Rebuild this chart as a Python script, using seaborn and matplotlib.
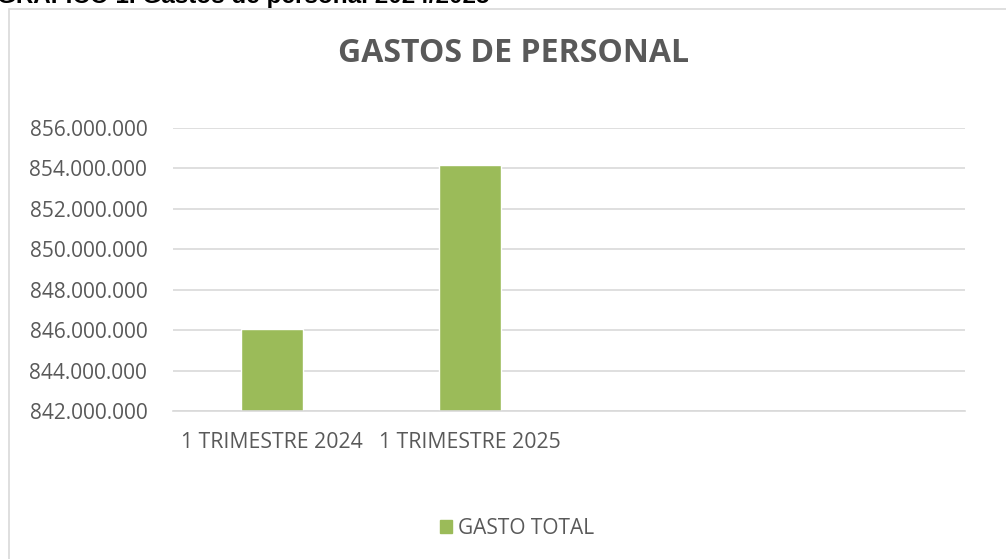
import pandas as pd
import matplotlib.pyplot as plt
import matplotlib.ticker as mticker
from matplotlib.patches import Rectangle
import seaborn as sns

# Datos del gráfico
periodos = ['1 TRIMESTRE 2024', '1 TRIMESTRE 2025']
gasto_total = [846050000, 854180000]
serie = 'GASTO TOTAL'

df = pd.DataFrame({'Periodo': periodos, 'Gasto': gasto_total})

sns.set_style('white')
plt.rcParams['font.family'] = ['Open Sans', 'DejaVu Sans']

gris = '#595959'
verde = '#9BBB59'
linea = '#d9d9d9'

fig = plt.figure(figsize=(10.06, 5.59), dpi=100)
ax = fig.add_axes([173 / 1006, 1 - 411 / 559, 792 / 1006, 283 / 559])

sns.barplot(data=df, x='Periodo', y='Gasto', color=verde, width=0.31,
            saturation=1, ax=ax, label=serie)
ax.set_xlim(-0.5, 3.5)
ax.set_ylim(842000000, 856000000)
ax.set_yticks(range(842000000, 856000001, 2000000))
ax.yaxis.set_major_formatter(mticker.FuncFormatter(lambda v, p: f'{int(v):,}'.replace(',', '.')))
ax.grid(axis='y', color=linea, linewidth=1.2)
ax.set_axisbelow(True)
sns.despine(ax=ax, left=True, right=True, top=True)
ax.spines['bottom'].set_color(linea)
ax.spines['bottom'].set_linewidth(1.2)
ax.tick_params(axis='y', length=0, colors=gris, labelsize=15, pad=18.5)
ax.tick_params(axis='x', length=0, colors=gris, labelsize=15.3, pad=15)
ax.set_xlabel('')
ax.set_ylabel('')
if ax.get_legend():
    ax.get_legend().remove()

# Marco del gráfico
fig.patches.append(Rectangle((9 / 1006, -0.1), 1.1, 1 - 9 / 559 + 0.1, transform=fig.transFigure,
                             fill=False, edgecolor=linea, linewidth=1.2))

fig.text(514 / 1006, 1 - 53 / 559, 'GASTOS DE PERSONAL', ha='center', va='center',
         fontsize=23, fontweight='bold', color=gris)
fig.text(-3 / 1006, 1 - 3 / 559, 'GRÁFICO 1. Gastos de personal 2024/2025', ha='left',
         va='baseline', fontsize=17.5, fontweight='bold', color='black',
         family=['Liberation Sans', 'DejaVu Sans'])

handles = [Rectangle((0, 0), 1, 1, color=verde)]
fig.legend(handles, [serie], loc='center', bbox_to_anchor=(517 / 1006, 1 - 528 / 559),
           frameon=False, fontsize=15, labelcolor=gris, handlelength=0.6, handleheight=0.6,
           handletextpad=0.3)

fig.savefig('out.png', dpi=100)
